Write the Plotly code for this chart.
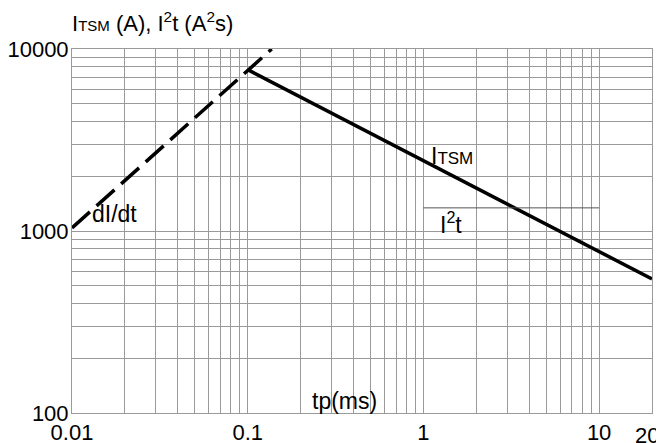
import numpy as np
import plotly.graph_objects as go

# surge current limit (dI/dt dashed), ITSM curve and I2t level
didt_tp = [0.01, 0.137]
didt_val = [1040, 10000]
itsm_tp = [0.1, 20]
itsm_val = [7700, 545]
i2t_tp = [1, 10]
i2t_val = [1340, 1340]

x_labels = {0.01: "0.01", 0.1: "0.1", 1: "1", 10: "10"}
y_labels = {100: "100", 1000: "1000", 10000: "10000"}

# grid positions: 1..9 in each decade
x_grid = [m * 10.0 ** e for e in range(-2, 1) for m in range(1, 10)] + [10, 20]
y_grid = [m * 10.0 ** e for e in range(2, 4) for m in range(1, 10)] + [10000]

FONT = "Liberation Sans, Arial, sans-serif"
GRID = "#9a9a9a"

fig = go.Figure()

fig.add_trace(go.Scatter(
    x=didt_tp, y=didt_val, mode="lines",
    line=dict(color="black", width=3.5, dash="24px,9px"),
    showlegend=False,
))
fig.add_trace(go.Scatter(
    x=itsm_tp, y=itsm_val, mode="lines",
    line=dict(color="black", width=3.5),
    showlegend=False,
))
fig.add_trace(go.Scatter(
    x=i2t_tp, y=i2t_val, mode="lines",
    line=dict(color="#555555", width=1),
    showlegend=False,
))

fig.update_xaxes(
    type="log", range=[-2, np.log10(20)],
    tickvals=x_grid,
    ticktext=[x_labels.get(round(v, 4), "") for v in x_grid],
    showgrid=True, gridcolor=GRID, gridwidth=1,
    showline=True, linecolor=GRID, linewidth=1, mirror=True,
    ticks="", zeroline=False, automargin=False,
    tickfont=dict(family=FONT, size=22, color="black"),
)
fig.update_yaxes(
    type="log", range=[2, 4],
    tickvals=y_grid,
    ticktext=[y_labels.get(round(v), "") for v in y_grid],
    showgrid=True, gridcolor=GRID, gridwidth=1,
    showline=True, linecolor=GRID, linewidth=1, mirror=True,
    ticks="", zeroline=False, automargin=False, ticklabelstandoff=-2,
    tickfont=dict(family=FONT, size=22, color="black"),
)

# the "20" label sits shifted left so it stays inside the page
fig.add_annotation(
    text="20", x=1, y=0, xref="paper", yref="paper",
    xanchor="center", yanchor="top", xshift=-5, yshift=-8, showarrow=False,
    font=dict(family=FONT, size=22, color="black"),
)

def small(s, size):
    return "<span style='font-size:%dpx'>%s</span>" % (size, s)

notes = [
    ("I" + small("TSM", 17), 0.034, 3.412),
    ("I<sup>2</sup>t", 0.085, 3.044),
    ("dI/dt", -1.898, 3.093),
    ("tp(ms)", -0.648, 2.066),
]
for txt, lx, ly in notes:
    fig.add_annotation(
        text=txt, x=lx, y=ly, xref="x", yref="y",
        xanchor="left", yanchor="middle", showarrow=False,
        font=dict(family=FONT, size=23, color="black"),
    )

fig.add_annotation(
    text="I" + small("TSM", 15) + " (A), I<sup>2</sup>t (A<sup>2</sup>s)",
    x=0, y=1.074, xref="paper", yref="paper",
    xanchor="left", yanchor="middle", showarrow=False, xshift=-2,
    font=dict(family=FONT, size=22, color="black"),
)

# page body keeps an 8px margin, so the figure is 8px smaller
fig.update_layout(
    width=656, height=435,
    margin=dict(l=64, r=12, t=41, b=30),
    plot_bgcolor="white", paper_bgcolor="white",
)

fig.write_html("out.html")
